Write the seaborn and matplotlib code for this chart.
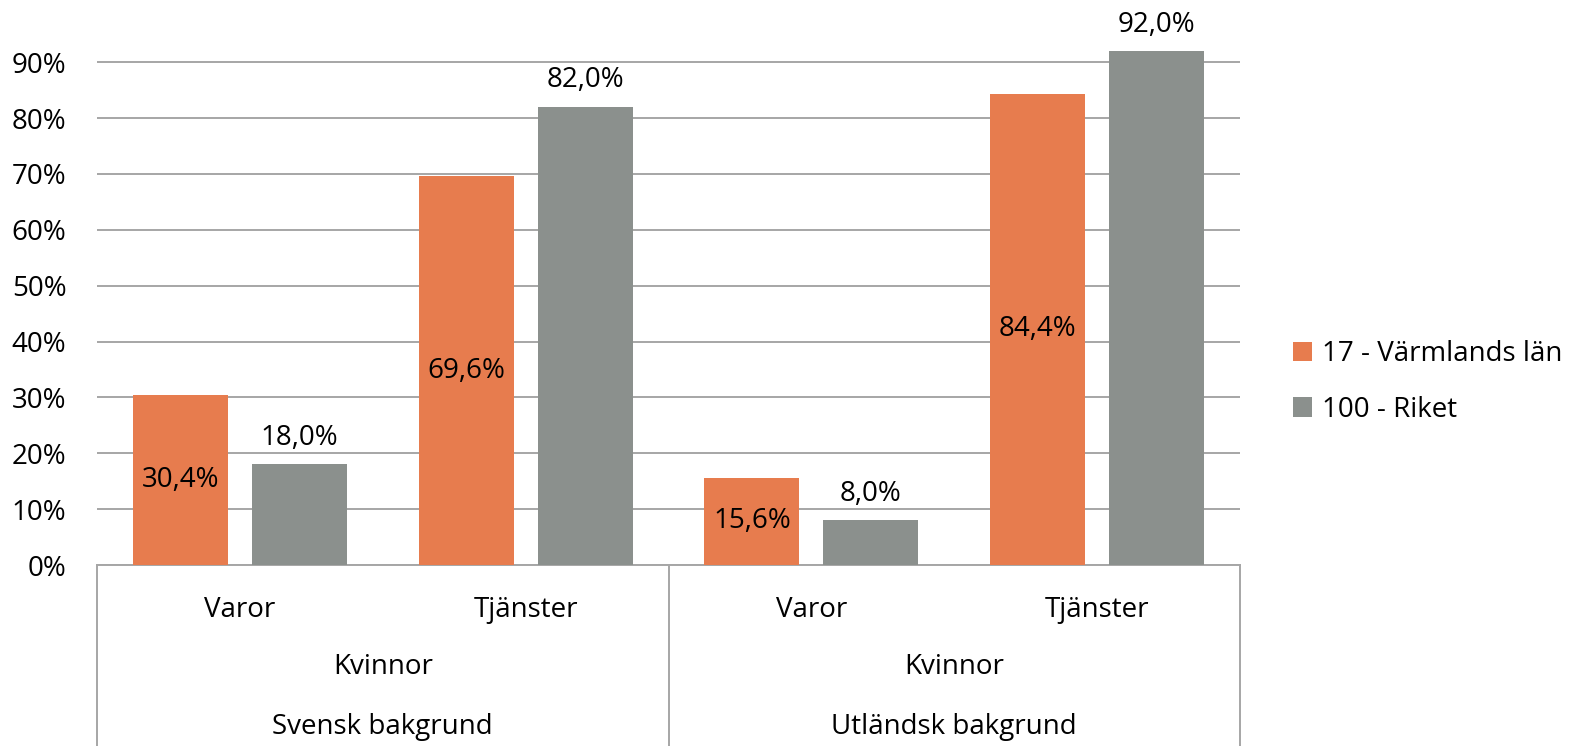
import matplotlib
matplotlib.use("Agg")
import matplotlib.pyplot as plt
from matplotlib.patches import Patch
import seaborn as sns
import pandas as pd

# ---- data ----
level1 = ["Varor", "Tjänster", "Varor", "Tjänster"]
level2 = ["Kvinnor", "Kvinnor"]
level3 = ["Svensk bakgrund", "Utländsk bakgrund"]
series = ["17 - Värmlands län", "100 - Riket"]
varmland = [0.304, 0.696, 0.156, 0.844]
riket = [0.180, 0.820, 0.080, 0.920]
yticks = [0, 0.1, 0.2, 0.3, 0.4, 0.5, 0.6, 0.7, 0.8, 0.9]
colors = ["#E77C4E", "#8B908D"]

keys = [f"{level3[i // 2]}|{level1[i]}" for i in range(4)]
df = pd.DataFrame({
    "key": keys * 2,
    "series": [series[0]] * 4 + [series[1]] * 4,
    "value": varmland + riket,
})

sns.set_theme(style="white")
plt.rcParams["font.family"] = ["Open Sans", "DejaVu Sans"]
plt.rcParams["text.color"] = "black"
plt.rcParams["xtick.color"] = "black"
plt.rcParams["ytick.color"] = "black"
FS = 20

fig = plt.figure(figsize=(15.71, 7.46), dpi=100)
W, H = 1571, 746
ax = fig.add_axes([97 / W, (H - 565) / H, (1240 - 97) / W, 558.6 / H])

sns.barplot(data=df, x="key", y="value", hue="series", order=keys,
            hue_order=series, palette=colors, saturation=1, width=0.833,
            gap=0.2, linewidth=0, ax=ax, legend=False, zorder=3)

ax.set_ylim(0, 1.0)
ax.set_xlim(-0.5, 3.5)
ax.set_yticks(yticks)
ax.set_yticklabels([f"{int(round(t * 100))}%" for t in yticks], fontsize=FS,
                   color="black")
ax.yaxis.grid(True, color="#A6A6A6", linewidth=1.4, zorder=0)
ax.set_axisbelow(True)
for s in ["top", "right", "left"]:
    ax.spines[s].set_visible(False)
ax.spines["bottom"].set_color("#A6A6A6")
ax.spines["bottom"].set_linewidth(1.4)
ax.tick_params(axis="y", length=0, pad=22)
ax.tick_params(axis="x", length=0, pad=22)
ax.set_xticks(range(4))
ax.set_xticklabels(level1, fontsize=FS, color="black")
ax.set_xlabel("")
ax.set_ylabel("")

# bar labels
def fmt(v):
    return f"{v * 100:.1f}%".replace(".", ",")

c0, c1 = ax.containers[0], ax.containers[1]
ax.bar_label(c0, labels=[fmt(v) for v in varmland], label_type="center",
             fontsize=FS, color="black")
ax.bar_label(c1, labels=[fmt(v) for v in riket], label_type="edge",
             padding=9, fontsize=FS, color="black")

# multi-level category axis
trans = ax.get_xaxis_transform()
for b in [-0.5, 1.5, 3.5]:
    ax.plot([b, b], [0, -0.33], transform=trans, color="#A6A6A6",
            linewidth=1.4, clip_on=False)
for j in range(2):
    xc = 2 * j + 0.5
    ax.text(xc, -(667 - 565) / 558.6, level2[j], transform=trans,
            ha="center", va="center", fontsize=FS, color="black")
    ax.text(xc, -(727 - 565) / 558.6, level3[j], transform=trans,
            ha="center", va="center", fontsize=FS, color="black")

handles = [Patch(facecolor=c, edgecolor="none") for c in colors]
fig.legend(handles, series, loc="center left",
           bbox_to_anchor=(1268 / W, (H - 382) / H), frameon=False,
           fontsize=FS, handlelength=0.7, handleheight=0.7,
           handletextpad=0.35, labelspacing=1.0, labelcolor="black")

fig.savefig("out.png", dpi=100)
